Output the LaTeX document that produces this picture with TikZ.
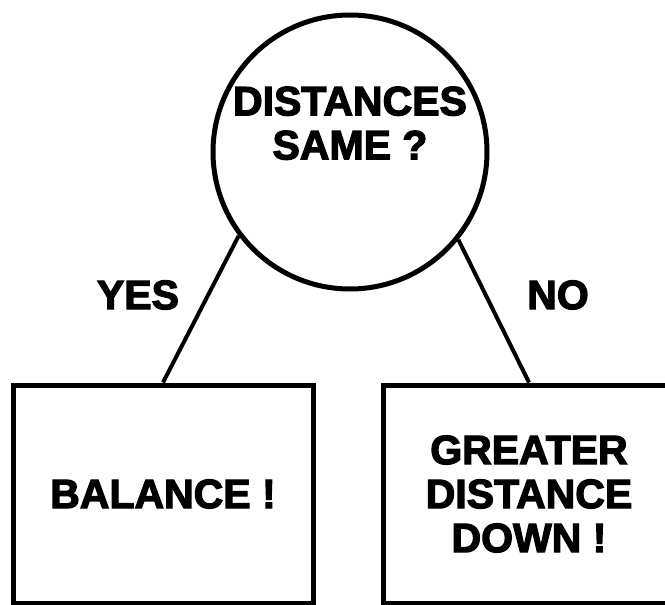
\documentclass[tikz,border=0pt]{standalone}
\usepackage{fontspec}
\newfontfamily\heavy[FakeBold=3]{Liberation Sans Bold}
\usepackage{tikz}
\usetikzlibrary{positioning,shapes.geometric}
\tikzset{
  pregunta/.style={circle,draw=black,line width=5pt,minimum size=274pt,inner sep=0pt,align=center,text depth=58pt},
  caja/.style={rectangle,draw=black,line width=5pt,align=center,inner sep=0pt,minimum height=218pt},
  rama/.style={line width=4pt,color=black},
  etiqueta/.style={inner sep=0pt},
}

\begin{document}
\begin{tikzpicture}[x=1pt,y=-1pt,font=\heavy\fontsize{41}{44}\selectfont]
  \useasboundingbox (0,0) rectangle (665,605);
  \node[pregunta] (same) at (350,152) {DISTANCES\\SAME ?};
  \node[caja,minimum width=300pt] (balance) at (163,494) {BALANCE !};
  \node[caja,minimum width=292pt] (greater) at (529,494) {GREATER\\DISTANCE\\DOWN !};
  \node[etiqueta] (yes) at (138,295) {YES};
  \node[etiqueta] (no) at (558,295) {NO};
  \draw[rama] (same.217) -- (balance.north);
  \draw[rama] (same.321) -- (greater.north);
\end{tikzpicture}
\end{document}
